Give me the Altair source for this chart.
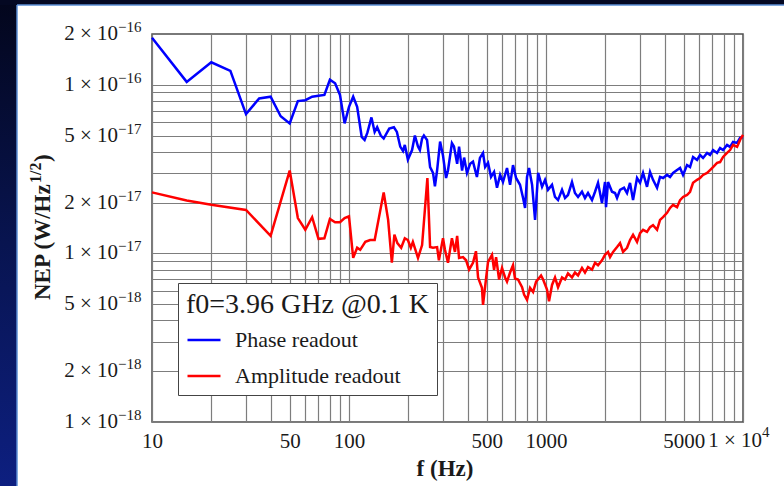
import altair as alt
import pandas as pd

# ---------------- data (NEP in units of 1e-18 W/Hz^1/2) ----------------
phase_freq = [10, 15, 20, 25, 30, 35, 40, 45, 50, 55, 60, 65, 70, 75, 80, 85, 90, 95, 100,
              105, 110, 116, 120, 124, 130, 135, 139, 145, 150, 160, 169, 175, 182, 188, 192,
              199, 209, 216, 224, 229, 235, 240, 249, 258, 267, 273, 280, 290, 300, 311, 318,
              333, 341, 354, 362, 375, 384, 397, 412, 426, 446, 462, 479, 491, 508, 526, 545,
              564, 585, 605, 634, 657, 680, 705, 738, 765, 783, 801, 820, 850, 880, 912, 955,
              989, 1024, 1073, 1111, 1151, 1206, 1249, 1293, 1355, 1403, 1454, 1523, 1577,
              1634, 1712, 1774, 1837, 1924, 1993, 2017, 2065, 2163, 2241, 2294, 2376, 2489,
              2578, 2670, 2766, 2898, 3002, 3109, 3257, 3374, 3494, 3662, 3792, 3928, 4116,
              4263, 4415, 4627, 4792, 4963, 5200, 5386, 5578, 5846, 6054, 6270, 6571, 6804,
              7047, 7385, 7649, 7922, 8300, 8598, 8905, 9332, 9665, 10000]
phase_nep = [190, 104, 136, 121, 67, 83, 85, 65, 59, 80, 81, 85, 86, 87, 107, 102, 87, 59, 74,
             85, 74, 49, 47, 52, 64, 52.5, 56, 50, 48, 55, 56, 52.5, 43, 40.5, 44,
             36, 41, 50, 43, 41, 48, 50, 47, 32.5, 30, 25, 31, 46, 38, 28, 31,
             45, 43, 34, 43, 31, 37, 30, 34, 35, 28.4, 36.8, 39.4, 32.5, 34.4, 28.4, 30.4,
             24.5, 29.2, 26.5, 32.1, 25.5, 33.4, 28.0, 25.5, 21.3, 18.6, 28.4, 32.1, 25.5, 15.8, 30.0, 24.8,
             27.3, 23.8, 25.5, 21.6, 20.7, 23.8, 21.3, 22.2, 26.5, 22.8, 21.6, 23.2, 21.3,
             22.8, 20.7, 23.2, 26.2, 19.9, 26.5, 18.8, 26.5, 23.2, 22.8, 21.3, 23.8, 24.5,
             22.8, 26.2, 20.7, 28.0, 26.2, 30.0, 24.8, 30.4, 27.3, 24.5, 28.4, 28.0, 29.2,
             28.4, 30.0, 31.2, 32.1, 29.2, 33.4, 32.5, 37.3, 35.8, 38.3, 36.8, 39.4, 38.3,
             41.0, 39.4, 42.2, 41.0, 44.0, 42.8, 45.8, 45.2, 48.4, 49.0]

amp_freq = [10, 15, 20, 30, 40, 50, 55, 60, 65, 70, 75, 80, 85, 90, 95, 100, 105, 110, 114,
            121, 128, 135, 150, 158, 165, 170, 176, 184, 192, 199, 206, 211, 224, 235, 250,
            258, 267, 280, 286, 300, 307, 318, 333, 345, 354, 362, 379, 393, 407, 426, 441,
            452, 473, 479, 497, 508, 532, 545, 558, 578, 598, 620, 634, 657, 680, 696, 721,
            756, 774, 801, 830, 860, 891, 944, 967, 1012, 1036, 1073, 1111, 1151, 1206, 1249,
            1293, 1355, 1403, 1454, 1523, 1577, 1634, 1712, 1774, 1837, 1924, 1993, 2065,
            2114, 2190, 2294, 2376, 2461, 2578, 2670, 2766, 2898, 3002, 3109, 3257, 3374,
            3494, 3662, 3792, 3928, 4116, 4263, 4415, 4627, 4792, 4963, 5200, 5386, 5578,
            5846, 6054, 6270, 6571, 6804, 7047, 7385, 7649, 7922, 8300, 8598, 8905, 9332,
            9665, 10000]
amp_nep = [23, 20.6, 19.4, 18.1, 12.7, 31, 16.2, 13.8, 16.4, 12.2, 12.3, 16.0, 15.3, 15.3, 16.2, 16.6, 9.4, 10.8, 10.5,
           11.7, 12.0, 12.0, 23, 15.8, 8.8, 12.9, 11.5, 10.8, 12.3, 12.0, 10.8, 11.7, 9.4, 11.2, 28,
           10.9, 10.8, 10.9, 9.1, 12.3, 10.5, 8.8, 12.3, 10.2, 12.7, 9.4, 9.5, 9.1, 8.0, 8.8, 10.3,
           7.2, 6.25, 4.95, 7.2, 8.9, 9.8, 8.0, 9.5, 7.0, 8.2, 7.2, 6.8, 7.7, 8.5, 7.1, 7.0,
           6.3, 5.7, 5.3, 6.25, 5.9, 6.8, 7.4, 7.0, 6.1, 5.2, 6.5, 7.2, 6.3, 7.2, 7.0,
           7.6, 7.2, 7.7, 7.4, 8.2, 7.7, 8.3, 8.0, 8.8, 8.5, 9.1, 9.8, 10.2,
           9.5, 10.2, 10.9, 11.5, 10.2, 10.8, 12.0, 12.9, 11.7, 13.2, 13.8, 13.4, 14.3,
           14.7, 13.8, 15.8, 16.4, 17.4, 18.6, 19.4, 18.8, 20.7, 21.6, 22.2, 23.2, 26.2,
           27.3, 28.0, 29.2, 30.0, 31.2, 32.5, 34.4, 34.8, 37.3, 39.4, 41.0, 44.0, 42.8,
           47.1, 50.4]

series_names = ["Phase readout", "Amplitude readout"]
series_colors = ["#0000ff", "#ff0000"]
legend_title = "f0=3.96 GHz @0.1 K"

y_label_mantissa = [1, 2, 5, 1, 2, 5, 1, 2]
y_label_exponent = [-18, -18, -18, -17, -17, -17, -16, -16]
x_label_values = [10, 50, 100, 500, 1000, 5000]
x_sci_value = [10000]
x_sci_base = ["1 × 10"]
x_sci_exp = ["4"]
grid_mantissas = [1, 2, 3, 4, 5, 6, 7, 8, 9]
x_decades = [10, 100, 1000]
y_decades = [1e-18, 1e-17]

x_title = ["f (Hz)"]
y_title_main = ["NEP (W/Hz"]
y_title_sup = ["1/2"]
y_title_close = [")"]

# ---------------- build ----------------
FONT = "Liberation Serif"
TXT = "#1a1a1a"
GRID = "#7d7d7d"

phase_df = pd.DataFrame({"f": phase_freq, "nep": [v * 1e-18 for v in phase_nep], "series": series_names[0]})
amp_df = pd.DataFrame({"f": amp_freq, "nep": [v * 1e-18 for v in amp_nep], "series": series_names[1]})

x_scale = alt.Scale(type="log", domain=[10, 10000], nice=False)
y_scale = alt.Scale(type="log", domain=[1e-18, 2e-16], nice=False)
color_scale = alt.Scale(domain=series_names, range=series_colors)

x_grid = [m * d for d in x_decades for m in grid_mantissas] + [10000]
y_grid = [m * d for d in y_decades for m in grid_mantissas] + [1e-16]

label_list = ",".join(str(v) for v in x_label_values)
x_axis = alt.Axis(values=x_grid, grid=True, gridColor=GRID, gridWidth=1.2, ticks=False,
                  domain=False, title=None,
                  labelExpr=f"indexof([{label_list}], datum.value) >= 0 ? format(datum.value, 'd') : ''",
                  labelFont=FONT, labelFontSize=21, labelColor=TXT, labelPadding=8,
                  labelOverlap=False, labelFlush=False, labelBound=False)
y_axis = alt.Axis(values=y_grid, grid=True, gridColor=GRID, gridWidth=1.2, ticks=False,
                  domain=False, labels=False, title=None)

legend = alt.Legend(orient="none", legendX=26, legendY=249, direction="vertical",
                    title=legend_title, titleFont=FONT, titleFontSize=28, titleFontWeight="normal",
                    titleColor=TXT, titlePadding=3, titleLimit=0,
                    labelFont=FONT, labelFontSize=22, labelColor=TXT, labelLimit=0, labelOffset=13,
                    symbolType="stroke", symbolSize=1089, symbolStrokeWidth=2.5,
                    rowPadding=7, padding=8, fillColor="white", strokeColor="#444444")

X = alt.X("f:Q", scale=x_scale, axis=x_axis)
Y = alt.Y("nep:Q", scale=y_scale, axis=y_axis)

def line_layer(df):
    return alt.Chart(df).mark_line(strokeWidth=2.5).encode(
        x=X, y=Y,
        color=alt.Color("series:N", scale=color_scale, legend=legend),
    )

phase_line = line_layer(phase_df)
amp_line = line_layer(amp_df)

ylab_df = pd.DataFrame({
    "nep": [m * 10.0 ** e for m, e in zip(y_label_mantissa, y_label_exponent)],
    "base": [f"{m} × 10" for m in y_label_mantissa],
    "exp": [f"\u2212{-e}" for e in y_label_exponent],
})
ylab_base = alt.Chart(ylab_df).mark_text(align="right", baseline="middle", font=FONT,
                                         fontSize=21, color=TXT).encode(
    x=alt.value(-34), y=Y, text="base:N")
ylab_exp = alt.Chart(ylab_df).mark_text(align="left", baseline="middle", font=FONT,
                                        fontSize=15, color=TXT, dy=-7).encode(
    x=alt.value(-34), y=Y, text="exp:N")

xsci_df = pd.DataFrame({"f": x_sci_value, "base": x_sci_base, "exp": x_sci_exp})
xsci_base = alt.Chart(xsci_df).mark_text(align="right", baseline="top", font=FONT,
                                         fontSize=21, color=TXT, dx=19).encode(
    x=X, y=alt.value(396), text="base:N")
xsci_exp = alt.Chart(xsci_df).mark_text(align="left", baseline="top", font=FONT,
                                        fontSize=15, color=TXT, dx=19).encode(
    x=X, y=alt.value(391), text="exp:N")

xt = alt.Chart(pd.DataFrame({"t": x_title})).mark_text(
    align="center", baseline="middle", font=FONT, fontSize=23, fontWeight="bold", color=TXT
).encode(x=alt.value(293), y=alt.value(435), text="t:N")

yt_main = alt.Chart(pd.DataFrame({"t": y_title_main})).mark_text(
    align="left", baseline="middle", angle=270, font=FONT, fontSize=23, fontWeight="bold", color=TXT
).encode(x=alt.value(-109), y=alt.value(266), text="t:N")
yt_sup = alt.Chart(pd.DataFrame({"t": y_title_sup})).mark_text(
    align="left", baseline="middle", angle=270, font=FONT, fontSize=16, fontWeight="bold", color=TXT
).encode(x=alt.value(-116), y=alt.value(149), text="t:N")
yt_close = alt.Chart(pd.DataFrame({"t": y_title_close})).mark_text(
    align="left", baseline="middle", angle=270, font=FONT, fontSize=23, fontWeight="bold", color=TXT
).encode(x=alt.value(-109), y=alt.value(128), text="t:N")

# ---------------- slide frame decoration ----------------
decor = pd.DataFrame({"k": [0]})
grad = {"gradient": "linear", "x1": 0, "y1": 0, "x2": 0, "y2": 1,
        "stops": [{"offset": 0, "color": "#03061c"},
                  {"offset": 0.5, "color": "#081450"},
                  {"offset": 1, "color": "#0d1f80"}]}
left_band = alt.Chart(decor).mark_rect(color=grad).encode(
    x=alt.value(-152), x2=alt.value(-135), y=alt.value(-34), y2=alt.value(452))
top_band = alt.Chart(decor).mark_rect(color="#040822").encode(
    x=alt.value(-152), x2=alt.value(632), y=alt.value(-34), y2=alt.value(-29))
edge_v = alt.Chart(decor).mark_rule(color="#5b8ed4", strokeWidth=1.5).encode(
    x=alt.value(-135), y=alt.value(-29), y2=alt.value(452))
edge_h = alt.Chart(decor).mark_rule(color="#5b8ed4", strokeWidth=1.5).encode(
    x=alt.value(-135), x2=alt.value(632), y=alt.value(-29))

chart = alt.layer(
    left_band, top_band, edge_v, edge_h,
    phase_line, amp_line,
    ylab_base, ylab_exp, xsci_base, xsci_exp, xt, yt_main, yt_sup, yt_close,
).properties(
    width=591, height=388,
    padding={"left": 152, "top": 34, "right": 41, "bottom": 64},
    autosize=alt.AutoSizeParams(type="none"),
    background="white",
).configure_view(stroke="#4d4d4d", strokeWidth=1.5)

chart.save("out.html", embed_options={"renderer": "svg", "actions": False})
